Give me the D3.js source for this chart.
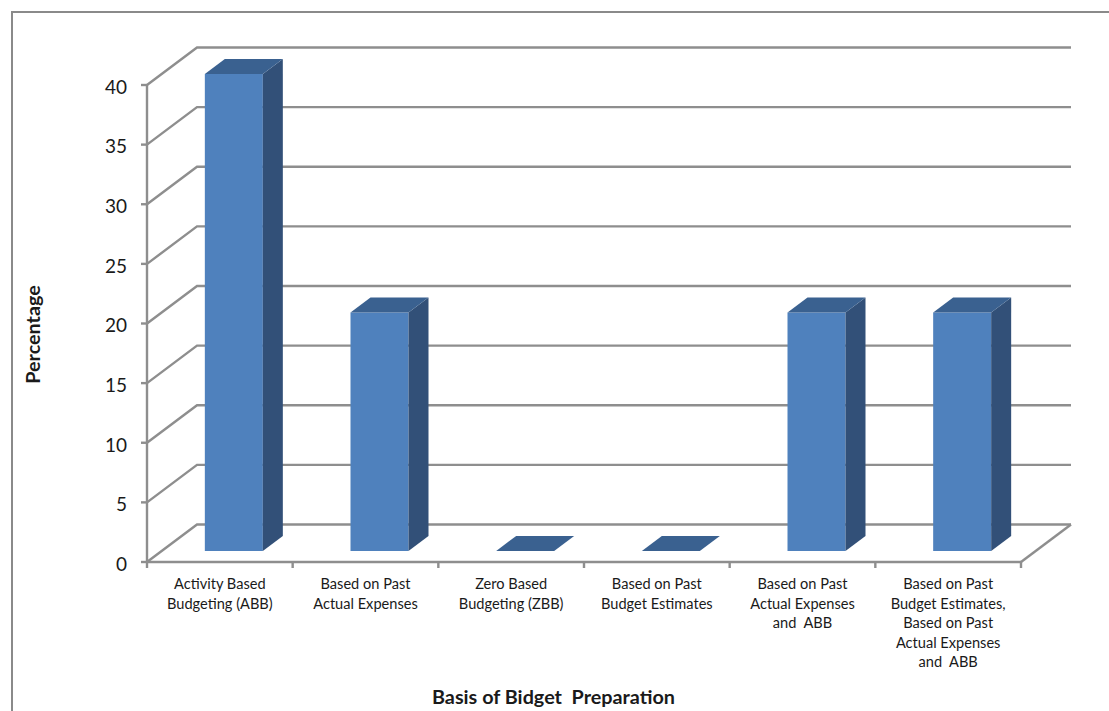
<!DOCTYPE html>
<html>
<head>
<meta charset="utf-8">
<script src="https://cdn.jsdelivr.net/npm/d3@7"></script>
<style>
  html, body { margin: 0; padding: 0; background: #fff; }
  svg { display: block; }
  text { font-family: Lato, "Open Sans", sans-serif; fill: #1a1a1a; }
  .grid { stroke: #8e8e8e; stroke-width: 2.4; fill: none; }
</style>
</head>
<body>
<svg width="1109" height="711"></svg>
<script>
const categories = [
    ["Activity Based", "Budgeting (ABB)"],
    ["Based on Past", "Actual Expenses"],
    ["Zero Based", "Budgeting (ZBB)"],
    ["Based on Past", "Budget Estimates"],
    ["Based on Past", "Actual Expenses", "and  ABB"],
    ["Based on Past", "Budget Estimates,", "Based on Past", "Actual Expenses", "and  ABB"]
];
const values = [40, 20, 0, 0, 20, 20];
const yTicks = [0, 5, 10, 15, 20, 25, 30, 35, 40];
const xTitle = "Basis of Bidget  Preparation";
const yTitle = "Percentage";

const svg = d3.select("svg");

// plot floor, front edge
const x = d3.scaleBand().domain(d3.range(categories.length)).range([147, 1021]);
const y = d3.scaleLinear().domain([0, 40]).range([562, 85]);

// shift of the back wall from the front edge
const depthX = 50, depthY = -37.5;
// bars sit inside the floor depth
const barW = 58, barDx = 20, barDy = -15, barFloorY = 551;
const barH = v => y(0) - y(v);

// chart frame, only left and top are inside the page
svg.append("path")
    .attr("d", "M12,711V12H1109")
    .attr("fill", "none").attr("stroke", "#8a8a8a").attr("stroke-width", 2);

// back wall gridlines and their diagonals along the side wall
yTicks.forEach(t => {
    svg.append("path").attr("class", "grid")
        .attr("d", d3.line()([
            [x.range()[0], y(t)],
            [x.range()[0] + depthX, y(t) + depthY],
            [x.range()[1] + depthX, y(t) + depthY]
        ]));
});

// floor right edge
svg.append("line").attr("class", "grid")
    .attr("x1", x.range()[1]).attr("y1", y(0))
    .attr("x2", x.range()[1] + depthX).attr("y2", y(0) + depthY);

// vertical axis and front edge
svg.append("line").attr("class", "grid")
    .attr("x1", x.range()[0]).attr("y1", y(0))
    .attr("x2", x.range()[0]).attr("y2", y(40));
svg.append("line").attr("class", "grid")
    .attr("x1", x.range()[0]).attr("y1", y(0))
    .attr("x2", x.range()[1]).attr("y2", y(0));

// tick marks
yTicks.forEach(t => {
    svg.append("line").attr("class", "grid")
        .attr("x1", x.range()[0] - 6).attr("x2", x.range()[0])
        .attr("y1", y(t)).attr("y2", y(t));
});
d3.range(categories.length + 1).forEach(i => {
    const px = x.range()[0] + i * x.bandwidth();
    svg.append("line").attr("class", "grid")
        .attr("x1", px).attr("x2", px)
        .attr("y1", y(0)).attr("y2", y(0) + 6);
});

// bars: front, side, top
const bars = svg.selectAll(".bar").data(values).enter().append("g").attr("class", "bar")
    .attr("transform", (d, i) => `translate(${x(i) + (x.bandwidth() - barW) / 2 + 14},${barFloorY})`);

bars.append("rect")
    .attr("x", 0).attr("y", d => -barH(d))
    .attr("width", barW).attr("height", d => barH(d))
    .attr("fill", "#4f81bd");
bars.append("path")
    .attr("fill", "#325078")
    .attr("d", d => d3.line()([
        [barW, -barH(d)], [barW + barDx, -barH(d) + barDy],
        [barW + barDx, barDy], [barW, 0]
    ]) + "Z");
bars.append("path")
    .attr("fill", "#3a6190")
    .attr("d", d => d3.line()([
        [0, -barH(d)], [barDx, -barH(d) + barDy],
        [barW + barDx, -barH(d) + barDy], [barW, -barH(d)]
    ]) + "Z");

// y tick labels
svg.selectAll(".ylab").data(yTicks).enter().append("text")
    .attr("class", "ylab")
    .attr("x", 127).attr("y", d => y(d) + 2)
    .attr("dy", "0.36em").attr("text-anchor", "end")
    .attr("font-size", 19)
    .text(d => d);

// category labels
const catLabels = svg.selectAll(".xlab").data(categories).enter().append("text")
    .attr("class", "xlab")
    .attr("text-anchor", "middle")
    .attr("font-size", 14.6);
catLabels.selectAll("tspan").data((d, i) => d.map(s => ({ s, i }))).enter().append("tspan")
    .attr("x", d => x(d.i) + x.bandwidth() / 2)
    .attr("y", (d, j) => 589 + j * 19.6)
    .style("white-space", "pre")
    .text(d => d.s);

// axis titles
svg.append("text")
    .attr("x", 553.5).attr("y", 704)
    .attr("text-anchor", "middle")
    .attr("font-size", 19.8).attr("font-weight", 700)
    .style("white-space", "pre")
    .text(xTitle);
svg.append("text")
    .attr("transform", "translate(40,334.5) rotate(-90)")
    .attr("text-anchor", "middle")
    .attr("font-size", 19.8).attr("font-weight", 700)
    .text(yTitle);
</script>
</body>
</html>
